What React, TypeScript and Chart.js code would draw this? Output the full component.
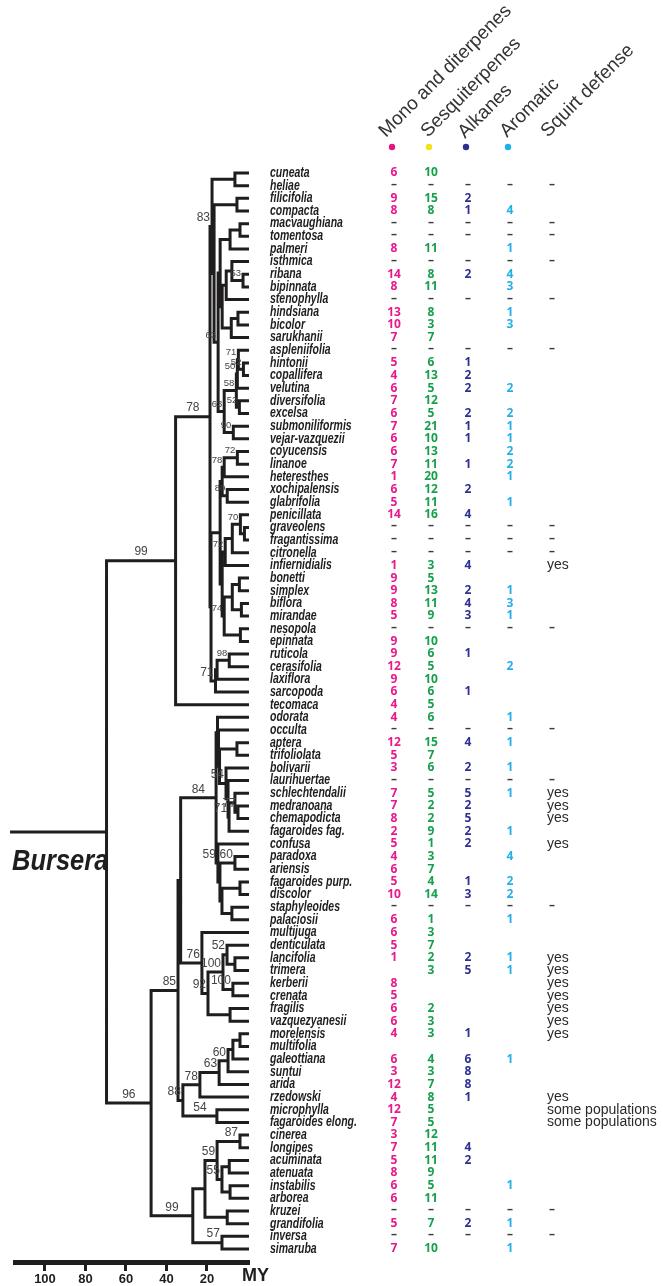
import React, { useEffect, useRef } from 'react';
import { Chart, registerables } from 'chart.js';

Chart.register(...registerables);

// ---------- data ----------
const TAXA = [
  'cuneata', 'heliae', 'filicifolia', 'compacta', 'macvaughiana', 'tomentosa', 'palmeri', 'isthmica', 'ribana', 'bipinnata',
  'stenophylla', 'hindsiana', 'bicolor', 'sarukhanii', 'aspleniifolia', 'hintonii', 'copallifera', 'velutina', 'diversifolia', 'excelsa',
  'submoniliformis', 'vejar-vazquezii', 'coyucensis', 'linanoe', 'heteresthes', 'xochipalensis', 'glabrifolia', 'penicillata', 'graveolens', 'fragantissima',
  'citronella', 'infiernidialis', 'bonetti', 'simplex', 'biflora', 'mirandae', 'nesopola', 'epinnata', 'ruticola', 'cerasifolia',
  'laxiflora', 'sarcopoda', 'tecomaca', 'odorata', 'occulta', 'aptera', 'trifoliolata', 'bolivarii', 'laurihuertae', 'schlechtendalii',
  'medranoana', 'chemapodicta', 'fagaroides fag.', 'confusa', 'paradoxa', 'ariensis', 'fagaroides purp.', 'discolor', 'staphyleoides', 'palaciosii',
  'multijuga', 'denticulata', 'lancifolia', 'trimera', 'kerberii', 'crenata', 'fragilis', 'vazquezyanesii', 'morelensis', 'multifolia',
  'galeottiana', 'suntui', 'arida', 'rzedowski', 'microphylla', 'fagaroides elong.', 'cinerea', 'longipes', 'acuminata', 'atenuata',
  'instabilis', 'arborea', 'kruzei', 'grandifolia', 'inversa', 'simaruba',
];

const n = null;
const MONO = [
  6, n, 9, 8, n, n, 8, n, 14, 8,
  n, 13, 10, 7, n, 5, 4, 6, 7, 6,
  7, 6, 6, 7, 1, 6, 5, 14, n, n,
  n, 1, 9, 9, 8, 5, n, 9, 9, 12,
  9, 6, 4, 4, n, 12, 5, 3, n, 7,
  7, 8, 2, 5, 4, 6, 5, 10, n, 6,
  6, 5, 1, n, 8, 5, 6, 6, 4, n,
  6, 3, 12, 4, 12, 7, 3, 7, 5, 8,
  6, 6, n, 5, n, 7,
];
const SESQ = [
  10, n, 15, 8, n, n, 11, n, 8, 11,
  n, 8, 3, 7, n, 6, 13, 5, 12, 5,
  21, 10, 13, 11, 20, 12, 11, 16, n, n,
  n, 3, 5, 13, 11, 9, n, 10, 6, 5,
  10, 6, 5, 6, n, 15, 7, 6, n, 5,
  2, 2, 9, 1, 3, 7, 4, 14, n, 1,
  3, 7, 2, 3, n, n, 2, 3, 3, n,
  4, 3, 7, 8, 5, 5, 12, 11, 11, 9,
  5, 11, n, 7, n, 10,
];
const ALKANES = [
  n, n, 2, 1, n, n, n, n, 2, n,
  n, n, n, n, n, 1, 2, 2, n, 2,
  1, 1, n, 1, n, 2, n, 4, n, n,
  n, 4, n, 2, 4, 3, n, n, 1, n,
  n, 1, n, n, n, 4, n, 2, n, 5,
  2, 5, 2, 2, n, n, 1, 3, n, n,
  n, n, 2, 5, n, n, n, n, 1, n,
  6, 8, 8, 1, n, n, n, 4, 2, n,
  n, n, n, 2, n, n,
];
const AROMATIC = [
  n, n, n, 4, n, n, 1, n, 4, 3,
  n, 1, 3, n, n, n, n, 2, n, 2,
  1, 1, 2, 2, 1, n, 1, n, n, n,
  n, n, n, 1, 3, 1, n, n, n, 2,
  n, n, n, 1, n, 1, n, 1, n, 1,
  n, n, 1, n, 4, n, 2, 2, n, 1,
  n, n, 1, 1, n, n, n, n, n, n,
  1, n, n, n, n, n, n, n, n, n,
  1, n, n, 1, n, 1,
];
const Y = 'yes';
const S = 'some populations';
const SQUIRT = [
  n, n, n, n, n, n, n, n, n, n,
  n, n, n, n, n, n, n, n, n, n,
  n, n, n, n, n, n, n, n, n, n,
  n, Y, n, n, n, n, n, n, n, n,
  n, n, n, n, n, n, n, n, n, Y,
  Y, Y, n, Y, n, n, n, n, n, n,
  n, n, Y, Y, Y, Y, Y, Y, Y, n,
  n, n, n, Y, S, S, n, n, n, n,
  n, n, n, n, n, n,
];
// taxa without data: a dash in every column
const NO_DATA_ROWS = [1, 4, 5, 7, 10, 14, 28, 29, 30, 36, 44, 48, 58, 82, 84];

const COLUMN_TITLES = ['Mono and diterpenes', 'Sesquiterpenes', 'Alkanes', 'Aromatic', 'Squirt defense'];
const AXIS_TICKS = [100, 80, 60, 40, 20];
const ROOT_LABEL = 'Bursera';

// Tree: tips = row index, internal nodes "(children)support:age_in_MY"
const ROOT_STEM_AGE = 116.5;
const COP_GROUP = '((((14,(15,16)52:2)71:4.5,17)50:5,(18,19)52:4)58:5.5,(20,21)90:7)63:11.5';
const SUB_A = '(((4,5):3.7,6):8.6,(((7,(8,9)53:2.2):7.7,10):10.5,((11,12):4.7,13):8):12.5):13.5';
const CLADE_83 = '((0,1):6.2,((2,3):5.2,(' + SUB_A + ',' + COP_GROUP + ')63:14.5):16.5)83:17.5';
const GLAB_1 = '(((22,23)72:5,24)78:11.5,(25,26)80:10):12.5';
const GLAB_72 = '(((27,(28,29):1.5)70:3.5,30):7.5,31)72:11';
const GLAB_74 = '(((32,33):4,(34,35):3):7.5,(36,37):3.5)74:11.5';
const CLADE_71 = '(((38,39)98:9,40):15,41)71:15.8';
const CLADE_B = '((' + GLAB_1 + ',(' + GLAB_72 + ',' + GLAB_74 + '):12.5):13.5,' + CLADE_71 + '):18';
const CLADE_99U = '((' + CLADE_83 + ',' + CLADE_B + ')78:18.5,42)99:35.5';
const CLADE_54 = '(47,(48,((49,(50,51)77:4.7):6.2,52)71:9.1):9.6)54:10.6';
const CLADE_84 = '((43,(44,((45,46):5.2,' + CLADE_54 + '):13.8):14.3):14.8,(53,((54,55)60:6.2,((56,57):3.7,(58,59):7.7):12.6):13.6)59:14.6)84:15.5';
const CLADE_76 = '(60,(((61,(62,63):6.2)52:10.1,(64,65)100:7.2)100:12.1,(66,67):8.6)92:19.5)76:22.5';
const CLADE_88 = '((((((68,69):3.7,70):7.2,71)60:9.6,72)63:14,73)78:23.5,(74,75)54:15.1)88:31.9';
const CLADE_99L = '((((76,77)87:3.7,((78,79):9,(80,81):8.6)55:12.6)59:15,(82,83):10):21,(84,85)57:12.6)99:27';
const CLADE_96 = '(((' + CLADE_84 + ',' + CLADE_76 + '):33,' + CLADE_88 + ')85:34.3,' + CLADE_99L + ')96:47.6';
const TREE = '(' + CLADE_99U + ',' + CLADE_96 + '):69.6';

// ---------- tree parsing / layout ----------
type TNode = { children: TNode[]; label: string; age: number; tip: number; depth: number; y: number; lower: boolean };

function parseTree(s: string): TNode {
  let i = 0;
  const node = (depth: number): TNode => {
    if (s[i] === '(') {
      i++;
      const children: TNode[] = [node(depth + 1)];
      while (s[i] === ',') { i++; children.push(node(depth + 1)); }
      i++; // ')'
      let label = '';
      while (i < s.length && s[i] !== ':' && s[i] !== ',' && s[i] !== ')') label += s[i++];
      let age = 0;
      if (s[i] === ':') {
        i++;
        let num = '';
        while (i < s.length && /[0-9.]/.test(s[i])) num += s[i++];
        age = parseFloat(num);
      }
      return { children, label, age, tip: -1, depth, y: 0, lower: false };
    }
    let num = '';
    while (i < s.length && /[0-9]/.test(s[i])) num += s[i++];
    return { children: [], label: '', age: 0, tip: parseInt(num, 10), depth, y: 0, lower: false };
  };
  return node(0);
}

function layout(t: TNode, lower: boolean) {
  t.lower = lower;
  if (t.tip >= 0) { t.y = t.tip; return; }
  t.children.forEach((c) => layout(c, lower));
  t.y = (t.children[0].y + t.children[t.children.length - 1].y) / 2;
}

const ROOT = parseTree(TREE);
layout(ROOT, false);
layout(ROOT.children[1], true);

function buildEdges(root: TNode) {
  const pts: any[] = [];
  pts.push({ x: ROOT_STEM_AGE, y: root.y }, { x: root.age, y: root.y }, { x: 0, y: null });
  const walk = (t: TNode) => {
    t.children.forEach((c) => {
      pts.push({ x: t.age, y: t.y }, { x: t.age, y: c.y }, { x: c.age, y: c.y }, { x: 0, y: null });
      walk(c);
    });
  };
  walk(root);
  return pts;
}

// ---------- drawing of table, labels ----------
const INK = '#1f1d1e';
const COLUMNS = [
  { x: 394, values: MONO, color: '#e8198b', dot: '#e4177f' },
  { x: 431, values: SESQ, color: '#16a04c', dot: '#f2e21c' },
  { x: 468, values: ALKANES, color: '#2e3192', dot: '#2b2f8f' },
  { x: 510, values: AROMATIC, color: '#27aee6', dot: '#1cb1e8' },
];
const SQUIRT_X = 552;
const NAME_X = 270;
const HEADER_ANCHORS = [[386, 138], [428, 138], [465, 139], [507, 138], [548, 138]];

const tablePlugin = {
  id: 'phyloTable',
  afterDraw(chart: any) {
    const { ctx } = chart;
    const xs = chart.scales.x;
    const ys = chart.scales.y;
    ctx.save();

    // support values
    ctx.fillStyle = '#444';
    ctx.textBaseline = 'bottom';
    const walk = (t: TNode, parent: TNode | null) => {
      if (t.label) {
        const px = xs.getPixelForValue(t.age);
        const py = ys.getPixelForValue(t.y);
        const ppx = xs.getPixelForValue(parent ? parent.age : ROOT_STEM_AGE);
        const size = t.depth <= 4 || t.lower ? 12 : 9.5;
        ctx.font = `${size}px "Liberation Sans", Arial, sans-serif`;
        if (px - ppx > 30) {
          ctx.textAlign = 'center';
          ctx.fillText(t.label, (px + ppx) / 2, py - 2.5);
        } else {
          ctx.textAlign = 'right';
          ctx.fillText(t.label, px - 2, py - 2.5);
        }
      }
      t.children.forEach((c) => walk(c, t));
    };
    walk(ROOT, null);

    // root label
    const ry = ys.getPixelForValue(ROOT.y);
    ctx.save();
    ctx.fillStyle = INK;
    ctx.textAlign = 'left';
    ctx.textBaseline = 'alphabetic';
    ctx.font = 'italic bold 30px "Liberation Sans", Arial, sans-serif';
    ctx.translate(12, ry + 38);
    ctx.scale(0.85, 1);
    ctx.fillText(ROOT_LABEL, 0, 0);
    ctx.restore();

    // taxon names
    ctx.fillStyle = INK;
    ctx.textAlign = 'left';
    ctx.textBaseline = 'middle';
    ctx.font = 'italic bold 14px "Liberation Sans", Arial, sans-serif';
    TAXA.forEach((name, i) => {
      const y = ys.getPixelForValue(i);
      ctx.save();
      ctx.translate(NAME_X, y);
      ctx.scale(0.75, 1);
      ctx.fillText(name, 0, 0);
      ctx.restore();
    });

    // value columns
    ctx.textAlign = 'center';
    ctx.font = 'bold 12px "Open Sans", "DejaVu Sans", sans-serif';
    TAXA.forEach((_, i) => {
      const y = ys.getPixelForValue(i);
      const none = NO_DATA_ROWS.includes(i);
      COLUMNS.forEach((col) => {
        if (none) {
          ctx.fillStyle = '#3a3a3a';
          ctx.fillText('–', col.x, y - 1.5);
        } else if (col.values[i] !== null) {
          ctx.fillStyle = col.color;
          ctx.fillText(String(col.values[i]), col.x, y);
        }
      });
      if (none) {
        ctx.fillStyle = '#3a3a3a';
        ctx.fillText('–', SQUIRT_X, y - 1.5);
      }
    });
    ctx.textAlign = 'left';
    ctx.fillStyle = '#2a2a2a';
    ctx.font = '14px "Liberation Sans", Arial, sans-serif';
    SQUIRT.forEach((s, i) => {
      if (s) ctx.fillText(s, SQUIRT_X - 5, ys.getPixelForValue(i));
    });

    // header
    ctx.fillStyle = '#333';
    ctx.textBaseline = 'alphabetic';
    ctx.font = '19px "Liberation Sans", Arial, sans-serif';
    COLUMN_TITLES.forEach((title, k) => {
      ctx.save();
      ctx.translate(HEADER_ANCHORS[k][0], HEADER_ANCHORS[k][1]);
      ctx.rotate(-45 * Math.PI / 180);
      ctx.fillText(title, 0, 0);
      ctx.restore();
    });
    COLUMNS.forEach((col) => {
      ctx.fillStyle = col.dot;
      ctx.beginPath();
      ctx.arc(col.x - 2, 147, 3.2, 0, Math.PI * 2);
      ctx.fill();
    });

    // axis unit
    ctx.fillStyle = INK;
    ctx.font = 'bold 18px "Liberation Sans", Arial, sans-serif';
    ctx.textAlign = 'left';
    ctx.fillText('MY', 242, 1281);

    ctx.restore();
  },
};

export default function App() {
  const ref = useRef<HTMLCanvasElement>(null);
  useEffect(() => {
    const chart = new Chart(ref.current as HTMLCanvasElement, {
      type: 'line',
      data: {
        datasets: [
          {
            data: buildEdges(ROOT),
            borderColor: INK,
            borderWidth: 3,
            pointRadius: 0,
            pointHoverRadius: 0,
            spanGaps: false,
            tension: 0,
            fill: false,
            borderCapStyle: 'square',
            borderJoinStyle: 'miter',
            clip: false,
          } as any,
        ],
      },
      options: {
        animation: false,
        responsive: true,
        maintainAspectRatio: false,
        events: [],
        layout: { padding: { left: 15, right: 414, top: 160, bottom: 0 } },
        plugins: { legend: { display: false }, tooltip: { enabled: false } },
        scales: {
          x: {
            type: 'linear',
            position: 'bottom',
            reverse: true,
            min: -0.75,
            max: 114.8,
            afterBuildTicks: (s: any) => { s.ticks = AXIS_TICKS.map((v) => ({ value: v })); },
            afterFit: (s: any) => { s.height = 24; },
            grid: { drawOnChartArea: false, drawTicks: true, tickLength: 9, tickWidth: 3, tickColor: INK, color: INK },
            border: { display: true, width: 5, color: INK },
            ticks: {
              autoSkip: false,
              maxRotation: 0,
              padding: 1,
              color: INK,
              font: { family: '"Liberation Sans", Arial, sans-serif', size: 13, weight: 'bold' },
              callback: (v: any) => String(v),
            },
          },
          y: { type: 'linear', display: false, reverse: true, min: -1.027, max: 86.027 },
        },
      } as any,
      plugins: [tablePlugin],
    });
    return () => chart.destroy();
  }, []);
  return (
    <div style={{ position: 'absolute', left: 0, top: 0, width: 663, height: 1286 }}>
      <canvas ref={ref} />
    </div>
  );
}
